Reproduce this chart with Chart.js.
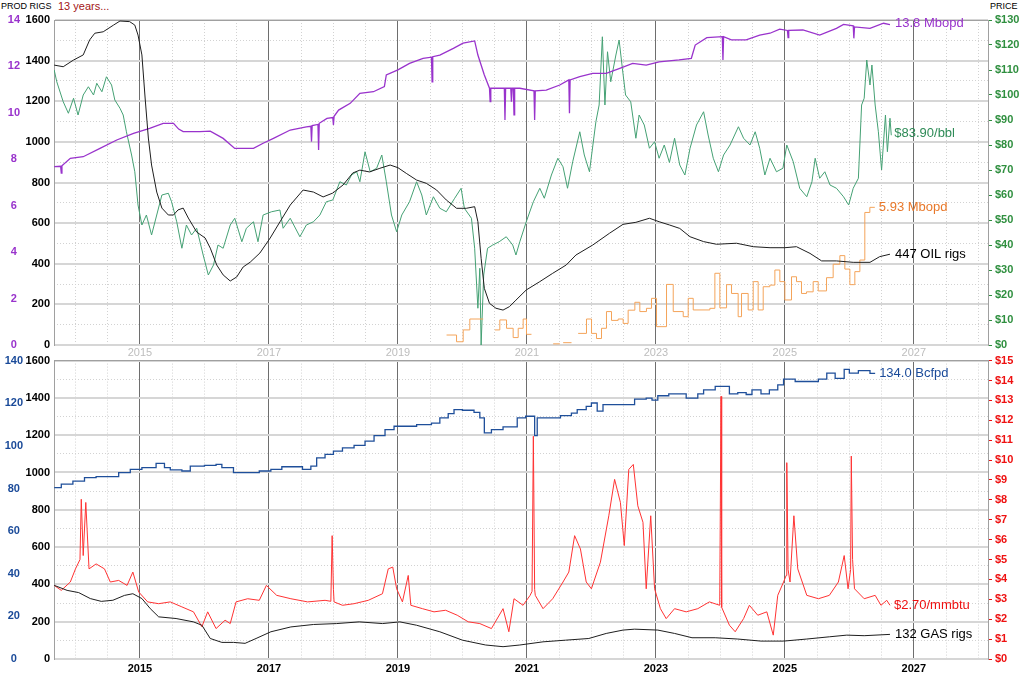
<!DOCTYPE html>
<html>
<head>
<meta charset="utf-8">
<script src="https://cdn.jsdelivr.net/npm/chart.js@4.4.1/dist/chart.umd.min.js"></script>
<style>
  body { margin: 0; background: #fff; width: 1020px; height: 676px; overflow: hidden; position: relative;
         font-family: "Liberation Sans", Arial, sans-serif; }
  canvas { position: absolute; left: 0; }
  #oil { top: 0; }
  #gas { top: 350px; }
  .hdr { position: absolute; top: 0; font-size: 9px; line-height: 12px; color: #000; }
</style>
</head>
<body>
<div class="hdr" style="left:1px">PROD RIGS</div>
<div class="hdr" style="left:58px;color:#a31515;font-size:11px">13 years...</div>
<div class="hdr" style="left:990px">PRICE</div>
<canvas id="oil" width="1020" height="362"></canvas>
<canvas id="gas" width="1020" height="326"></canvas>
<script>
// x range in decimal years
const xMin = 2013.667, xMax = 2028.15;
const yearLabels = [2015, 2017, 2019, 2021, 2023, 2025, 2027];

// ---- oil panel ----
const oilRigs = [[2013.67,1378],[2013.81,1370],[2013.97,1403],[2014.12,1428],[2014.22,1502],[2014.30,1535],[2014.43,1542],
  [2014.59,1575],[2014.69,1595],[2014.84,1592],[2014.92,1575],[2014.97,1526],[2015.03,1428],[2015.08,1216],[2015.13,1019],
  [2015.18,886],[2015.26,753],[2015.34,674],[2015.44,640],[2015.52,640],[2015.59,665],[2015.67,674],[2015.75,625],[2015.88,556],
  [2016.01,527],[2016.09,477],[2016.19,394],[2016.29,345],[2016.40,315],[2016.50,335],[2016.60,384],[2016.71,408],[2016.86,453],
  [2017.02,527],[2017.17,606],[2017.33,689],[2017.53,763],[2017.69,753],[2017.84,729],[2017.99,748],[2018.15,788],[2018.30,847],
  [2018.41,861],[2018.56,852],[2018.72,870],[2018.88,886],[2019.00,873],[2019.13,845],[2019.29,812],[2019.44,796],[2019.60,763],
  [2019.75,714],[2019.91,673],[2020.06,673],[2020.19,681],[2020.24,607],[2020.29,427],[2020.34,279],[2020.42,205],[2020.52,181],
  [2020.63,172],[2020.73,189],[2020.83,221],[2020.99,271],[2021.20,312],[2021.40,353],[2021.61,394],[2021.76,443],[2022.02,492],
  [2022.28,550],[2022.49,594],[2022.69,604],[2022.90,624],[2023.05,607],[2023.21,591],[2023.37,574],[2023.53,533],[2023.74,509],
  [2023.94,496],[2024.25,501],[2024.51,484],[2024.77,479],[2025.00,479],[2025.18,484],[2025.39,451],[2025.57,414],[2025.80,414],
  [2026.06,407],[2026.32,407],[2026.47,435],[2026.63,447]];

const oilPrice = [[2013.67,110],[2013.71,105.3],[2013.81,97.3],[2013.89,92.7],[2013.97,98.7],[2014.04,92],[2014.12,100],
  [2014.20,103.3],[2014.28,100],[2014.33,104.7],[2014.41,101.3],[2014.48,107.3],[2014.56,104],[2014.61,98],[2014.69,94.7],
  [2014.74,92],[2014.79,85.3],[2014.87,76],[2014.92,69.3],[2014.97,56],[2015.03,48],[2015.10,52],[2015.18,44],[2015.26,52],
  [2015.34,60],[2015.44,60.7],[2015.49,57.3],[2015.57,49.3],[2015.65,38.7],[2015.72,48],[2015.80,44],[2015.88,46.7],[2015.98,36],
  [2016.06,28],[2016.14,32],[2016.21,40],[2016.29,38.7],[2016.40,48],[2016.47,50.7],[2016.58,41.3],[2016.65,46.7],[2016.76,49.3],
  [2016.83,41.3],[2016.91,52],[2017.04,53.3],[2017.17,54],[2017.22,46.7],[2017.33,50.7],[2017.48,43.3],[2017.58,48],[2017.69,49.3],
  [2017.79,52],[2017.89,57.3],[2017.99,58],[2018.10,65.3],[2018.20,64],[2018.28,68],[2018.36,69.3],[2018.41,65.3],[2018.49,77.3],
  [2018.57,69.3],[2018.67,70.7],[2018.75,76],[2018.82,65.3],[2018.90,52],[2018.98,45.3],[2019.06,52],[2019.18,57.3],[2019.29,65.3],
  [2019.37,60],[2019.44,52],[2019.55,59.3],[2019.65,54.7],[2019.75,53.3],[2019.88,58.7],[2019.98,62.7],[2020.03,54.7],[2020.14,50.7],
  [2020.19,38.7],[2020.24,14.7],[2020.27,30.7],[2020.29,0],[2020.33,28],[2020.39,38.7],[2020.47,40],[2020.57,41.3],[2020.68,43.3],
  [2020.78,40],[2020.83,36],[2020.89,41.3],[2020.99,49.3],[2021.10,57.3],[2021.20,62.7],[2021.27,58.7],[2021.38,68],[2021.48,74.7],
  [2021.56,71.3],[2021.63,62.7],[2021.71,73.3],[2021.82,85.3],[2021.89,76],[2021.97,69.3],[2022.07,89.3],[2022.12,96],[2022.17,123.3],
  [2022.21,96],[2022.25,117.3],[2022.30,105.3],[2022.38,116],[2022.43,122],[2022.48,110.7],[2022.53,100],[2022.61,97.3],[2022.69,82.7],
  [2022.74,92],[2022.82,88],[2022.90,78.7],[2022.98,81.3],[2023.05,74.7],[2023.13,80],[2023.21,73],[2023.29,82.7],[2023.37,72],
  [2023.45,68],[2023.53,78.7],[2023.63,88],[2023.74,93.3],[2023.81,84],[2023.89,74.7],[2023.97,69.3],[2024.05,76],[2024.15,80],
  [2024.28,87.3],[2024.36,82.7],[2024.46,80],[2024.54,85.3],[2024.61,78.7],[2024.69,68],[2024.77,74.7],[2024.87,69.3],[2024.97,70.7],
  [2025.03,80],[2025.13,73.3],[2025.23,62.7],[2025.34,59.3],[2025.42,65.3],[2025.47,74.7],[2025.54,66.7],[2025.62,69.3],[2025.70,64],
  [2025.80,62.7],[2025.91,59.3],[2025.99,56],[2026.06,62.7],[2026.14,66.7],[2026.19,96],[2026.23,98.7],[2026.27,114],[2026.32,104],
  [2026.35,112],[2026.40,96],[2026.45,85.3],[2026.50,70],[2026.56,92],[2026.59,77.3],[2026.63,90.7],[2026.65,83.9]];

const oilProd = [[2013.67,7.68],[2013.77,7.70],[2013.78,7.40],[2013.79,7.72],[2013.92,8.04],[2014.12,8.11],[2014.38,8.47],
  [2014.64,8.83],[2014.90,9.12],[2015.15,9.33],[2015.36,9.55],[2015.52,9.55],[2015.60,9.30],[2015.67,9.19],[2015.93,9.19],
  [2016.09,9.21],[2016.29,8.90],[2016.47,8.47],[2016.76,8.47],[2016.91,8.69],[2017.07,8.90],[2017.33,9.26],[2017.58,9.40],
  [2017.65,9.42],[2017.66,8.76],[2017.67,9.45],[2017.76,9.50],[2017.77,8.40],[2017.78,9.55],[2017.90,9.76],[2017.99,9.80],
  [2018.00,9.48],[2018.01,9.85],[2018.08,10.12],[2018.26,10.41],[2018.41,10.84],[2018.62,10.91],[2018.79,11.13],[2018.82,11.63],
  [2019.00,11.85],[2019.18,12.13],[2019.39,12.35],[2019.52,12.40],[2019.53,11.34],[2019.54,12.42],[2019.65,12.49],[2019.86,12.78],
  [2020.01,13.00],[2020.19,13.10],[2020.24,12.49],[2020.34,11.63],[2020.42,11.06],[2020.43,10.48],[2020.44,11.06],[2020.65,11.06],
  [2020.66,9.69],[2020.67,11.06],[2020.75,11.06],[2020.76,10.48],[2020.77,11.06],[2020.79,11.06],[2020.80,9.91],[2020.81,11.06],
  [2020.89,11.06],[2021.11,10.95],[2021.12,9.69],[2021.13,10.95],[2021.30,10.98],[2021.51,11.20],[2021.65,11.42],[2021.66,9.98],
  [2021.67,11.42],[2021.82,11.56],[2022.02,11.70],[2022.23,11.70],[2022.44,11.92],[2022.64,12.13],[2022.85,12.06],[2023.05,12.20],
  [2023.36,12.28],[2023.55,12.35],[2023.61,12.92],[2023.79,13.24],[2024.03,13.28],[2024.04,12.28],[2024.05,13.28],[2024.17,13.14],
  [2024.40,13.14],[2024.61,13.35],[2024.77,13.43],[2024.92,13.61],[2025.04,13.55],[2025.05,13.24],[2025.06,13.55],[2025.28,13.57],
  [2025.54,13.35],[2025.80,13.64],[2025.91,13.81],[2026.06,13.75],[2026.07,13.21],[2026.08,13.70],[2026.32,13.64],[2026.53,13.86],
  [2026.63,13.80]];

// stepped series, null = gap
const oilExports = [[2019.754,0.43],[2019.909,0.14],[2020.012,0.65],[2020.115,1.12],[2020.322,1.12],[2020.40,null],
  [2020.503,0.65],[2020.580,1.08],[2020.684,0.72],[2020.787,0.32],[2020.865,0.72],[2020.942,1.12],[2020.994,0.46],[2021.071,0.46],
  [2021.20,null],[2021.407,0.05],[2021.511,0.05],[2021.53,null],[2021.562,0.10],[2021.692,0.10],[2021.74,null],
  [2021.795,0.50],[2021.924,1.12],[2022.002,0.50],[2022.079,0.28],[2022.157,0.72],[2022.234,1.44],[2022.312,1.06],[2022.415,1.12],
  [2022.493,0.93],[2022.570,1.50],[2022.674,1.84],[2022.751,1.44],[2022.854,1.58],[2022.932,2.01],[2023.010,0.79],[2023.165,2.61],
  [2023.269,1.44],[2023.424,1.22],[2023.501,2.01],[2023.579,1.51],[2023.837,1.58],[2023.915,3.09],[2023.992,1.60],[2024.096,2.60],
  [2024.173,2.22],[2024.276,1.22],[2024.328,2.22],[2024.431,1.51],[2024.509,2.73],[2024.586,1.51],[2024.664,2.51],[2024.767,2.58],
  [2024.845,3.23],[2024.922,2.73],[2025.000,1.94],[2025.103,2.94],[2025.181,2.73],[2025.258,2.22],[2025.336,2.29],[2025.439,2.73],
  [2025.517,2.33],[2025.646,2.90],[2025.749,3.48],[2025.853,3.85],[2025.930,3.27],[2026.008,2.60],[2026.085,3.16],[2026.163,3.66],
  [2026.240,5.71],[2026.318,5.93],[2026.395,5.93]];

// ---- gas panel ----
const gasRigs = [[2013.67,395],[2013.87,368],[2014.05,356],[2014.23,324],[2014.40,309],[2014.58,315],[2014.76,341],[2014.89,350],
  [2015.03,324],[2015.16,270],[2015.29,226],[2015.56,217],[2015.83,199],[2015.96,181],[2016.09,110],[2016.27,89],[2016.45,89],
  [2016.63,84],[2016.80,110],[2017.03,146],[2017.34,172],[2017.69,185],[2018.05,190],[2018.40,199],[2018.76,190],[2019.03,199],
  [2019.29,181],[2019.65,146],[2020.00,101],[2020.36,75],[2020.63,66],[2020.89,75],[2021.25,92],[2021.60,101],[2021.96,110],
  [2022.23,137],[2022.49,155],[2022.67,160],[2023.03,155],[2023.29,137],[2023.56,114],[2023.92,114],[2024.27,107],[2024.63,96],
  [2024.98,96],[2025.34,107],[2025.69,119],[2025.96,128],[2026.23,125],[2026.63,132]];

const gasPrice = [[2013.67,3.7],[2013.78,3.45],[2013.92,3.87],[2014.00,4.53],[2014.07,5.0],[2014.09,8.03],[2014.12,5.2],[2014.16,7.87],
  [2014.21,4.53],[2014.32,4.78],[2014.45,4.53],[2014.54,3.87],[2014.67,3.95],[2014.80,3.7],[2014.89,4.37],[2014.98,3.37],[2015.12,2.87],
  [2015.29,2.78],[2015.47,2.87],[2015.65,2.62],[2015.83,2.37],[2015.96,1.62],[2016.05,2.37],[2016.18,1.53],[2016.32,1.95],[2016.40,1.78],
  [2016.49,2.87],[2016.67,3.03],[2016.85,2.95],[2016.96,3.7],[2017.12,3.2],[2017.34,3.03],[2017.60,2.87],[2017.87,2.95],[2017.96,2.9],
  [2017.98,6.2],[2018.00,3.5],[2018.01,2.87],[2018.14,2.7],[2018.32,2.78],[2018.54,2.95],[2018.76,3.28],[2018.85,4.53],[2018.92,4.62],
  [2018.98,3.53],[2019.07,2.87],[2019.16,4.2],[2019.20,2.7],[2019.38,2.53],[2019.56,2.37],[2019.74,2.45],[2019.92,2.2],[2020.09,1.87],
  [2020.27,1.78],[2020.45,1.53],[2020.63,2.53],[2020.72,1.37],[2020.80,3.03],[2020.94,2.7],[2021.05,3.2],[2021.08,3.4],[2021.10,11.2],
  [2021.12,3.5],[2021.13,3.2],[2021.25,2.53],[2021.40,3.03],[2021.56,3.87],[2021.65,4.37],[2021.74,6.2],[2021.83,5.53],[2021.92,3.87],
  [2022.00,3.53],[2022.14,4.87],[2022.27,7.2],[2022.36,9.03],[2022.45,7.87],[2022.51,5.7],[2022.58,9.53],[2022.65,9.78],[2022.72,7.7],
  [2022.80,6.87],[2022.85,3.53],[2022.92,7.2],[2022.98,3.53],[2023.07,2.53],[2023.16,2.03],[2023.29,2.53],[2023.47,2.37],[2023.65,2.53],
  [2023.83,2.87],[2023.99,2.7],[2024.01,13.2],[2024.02,2.6],[2024.14,1.7],[2024.23,1.37],[2024.36,2.03],[2024.45,2.7],[2024.58,2.2],
  [2024.72,2.37],[2024.82,1.2],[2024.89,3.2],[2024.98,3.87],[2025.02,4.2],[2025.03,9.87],[2025.05,4.5],[2025.08,3.87],[2025.14,7.2],
  [2025.20,4.53],[2025.34,3.2],[2025.52,3.03],[2025.69,3.2],[2025.83,3.87],[2025.92,5.2],[2025.98,3.53],[2026.02,4.5],[2026.03,10.2],
  [2026.05,5.0],[2026.08,3.53],[2026.23,3.03],[2026.40,3.2],[2026.49,2.7],[2026.58,2.95],[2026.63,2.7]];

const gasProd = [[2013.67,80.4],[2013.78,82],[2013.96,83.5],[2014.14,85.1],[2014.32,85.6],[2014.67,87.4],[2014.85,89],[2015.03,89.8],
  [2015.25,91.8],[2015.38,89.8],[2015.47,88.7],[2015.65,88.2],[2015.78,90.5],[2016.00,90.8],[2016.18,91.3],[2016.27,89.8],[2016.45,87.4],
  [2016.85,88.2],[2017.03,89],[2017.20,90.2],[2017.52,89],[2017.65,90.5],[2017.74,94.4],[2017.87,96],[2018.00,97.5],[2018.14,99.1],
  [2018.32,100.2],[2018.49,102.2],[2018.63,104.8],[2018.80,107.6],[2018.94,109.2],[2019.29,110],[2019.52,110.7],[2019.65,113.1],
  [2019.78,115.1],[2019.87,117],[2020.00,116.7],[2020.18,115.7],[2020.27,113.1],[2020.34,106.1],[2020.45,107.6],[2020.63,108.9],
  [2020.85,113.1],[2020.98,113.9],[2021.12,104.8],[2021.16,113.1],[2021.52,114.2],[2021.69,115.4],[2021.78,117],[2021.92,118.5],
  [2022.00,120.1],[2022.09,116.3],[2022.18,119.3],[2022.67,121.9],[2022.85,122.4],[2022.94,121.5],[2023.03,123.5],[2023.20,124.4],
  [2023.47,122.4],[2023.65,124.4],[2023.74,126.3],[2023.92,127.9],[2024.14,124.4],[2024.27,125],[2024.40,124.1],[2024.49,126.3],
  [2024.63,124.4],[2024.76,126.3],[2024.89,128.6],[2024.98,131.3],[2025.16,130.2],[2025.52,131.3],[2025.65,134.1],[2025.78,131.7],
  [2025.92,135.9],[2026.00,134.1],[2026.14,135.3],[2026.32,134.0],[2026.40,134.0]];

const FONT = '"Liberation Sans", Arial, sans-serif';
const pts = arr => arr.map(p => ({ x: p[0], y: p[1] }));
const steps = (a, b, s) => { const t = []; for (let v = a; v <= b + 1e-9; v += s) t.push({ value: +v.toFixed(3) }); return t; };

// text after the last point of a series
const endLabels = {
  id: 'endLabels',
  afterDatasetsDraw(chart) {
    const ctx = chart.ctx;
    chart.data.datasets.forEach((ds, i) => {
      if (!ds.endLabel) return;
      const els = chart.getDatasetMeta(i).data;
      const p = els[els.length - 1];
      ctx.save();
      ctx.font = '13px ' + FONT;
      ctx.fillStyle = ds.endColor;
      ctx.textBaseline = 'middle';
      ctx.fillText(ds.endLabel, p.x + (ds.endDx || 4), p.y + (ds.endDy || 0));
      ctx.restore();
    });
  }
};

function panel(id, o) {
  return new Chart(document.getElementById(id), {
    type: 'line',
    data: { datasets: o.datasets },
    options: {
      responsive: false, animation: false, devicePixelRatio: 1,
      layout: { padding: { top: o.padTop, left: 0, right: 0, bottom: 0 } },
      plugins: { legend: { display: false }, tooltip: { enabled: false } },
      elements: { point: { radius: 0 }, line: { borderWidth: 1, tension: 0 } },
      scales: {
        x: {
          type: 'linear', min: xMin, max: xMax,
          afterBuildTicks: s => { s.ticks = steps(2014, 2028, 0.5); },
          ticks: { autoSkip: false, maxRotation: 0, padding: o.xPad, color: o.xColor,
                   font: { family: FONT, size: 11, weight: o.xWeight },
                   callback: v => yearLabels.includes(v) ? String(v) : '' },
          grid: { color: '#d2d2d2', drawTicks: false },
          border: { display: false, dash: [1, 2] },
          afterFit: s => { s.height = 17; }
        },
        xo: {
          type: 'linear', position: 'bottom', min: xMin, max: xMax,
          afterBuildTicks: s => { s.ticks = yearLabels.map(v => ({ value: v })); },
          ticks: { display: false },
          grid: { color: '#6e6e6e', drawTicks: false },
          border: { display: true, color: '#a0a0a0' },
          afterFit: s => { s.height = 0; }
        },
        xt: {
          type: 'linear', position: 'top', min: xMin, max: xMax,
          ticks: { display: false }, grid: { display: false, drawTicks: false },
          border: { display: true, color: '#a0a0a0' },
          afterFit: s => { s.height = 0; }
        },
        prod: {
          position: 'left', weight: 2, min: 0, max: o.prodMax,
          afterBuildTicks: s => { s.ticks = steps(0, o.prodMax, o.prodMax / 7); },
          ticks: { color: o.prodColor, crossAlign: 'center', padding: o.prodPad,
                   font: { family: FONT, size: 11, weight: 'bold' } },
          grid: { display: false, drawTicks: false }, border: { display: false },
          afterFit: s => { s.width = 26; }
        },
        rigs: {
          position: 'left', weight: 1, min: 0, max: 1600,
          afterBuildTicks: s => { s.ticks = steps(0, 1600, 50); },
          ticks: { color: '#000', padding: 4, font: { family: FONT, size: 11, weight: 'bold' },
                   callback: v => v % 200 === 0 ? String(v) : '' },
          grid: { color: '#d2d2d2', drawTicks: false },
          border: { display: false, dash: [1, 2] },
          afterFit: s => { s.width = 28; }
        },
        rmaj: {
          position: 'left', weight: 0, min: 0, max: 1600,
          afterBuildTicks: s => { s.ticks = steps(0, 1600, 200); },
          ticks: { display: false },
          grid: { color: '#d6d6d6', lineWidth: 2, drawTicks: false },
          border: { display: true, color: '#a0a0a0' },
          afterFit: s => { s.width = 0; }
        },
        price: {
          position: 'right', min: 0, max: o.priceMax,
          afterBuildTicks: s => { s.ticks = steps(0, o.priceMax, o.priceStep / 2); },
          ticks: { color: o.priceColor, padding: 3, font: { family: FONT, size: 11, weight: 'bold' },
                   callback: v => Math.abs(v / o.priceStep - Math.round(v / o.priceStep)) < 1e-6 ? '$' + v : '' },
          grid: { drawOnChartArea: false, tickLength: 4, tickColor: o.priceColor },
          border: { display: true, color: '#a0a0a0' },
          afterFit: s => { s.width = 32; }
        }
      }
    },
    plugins: [endLabels]
  });
}

panel('oil', {
  padTop: 20, xPad: 1, xColor: '#bdbdbd', xWeight: 'normal',
  prodMax: 14, prodColor: '#9933cc', prodPad: 6,
  priceMax: 130, priceStep: 10, priceColor: '#2f8f3f',
  datasets: [
    { data: pts(oilRigs), yAxisID: 'rigs', borderColor: '#1e1e1e',
      endLabel: '447 OIL rigs', endColor: '#000', endDx: 5 },
    { data: pts(oilExports), yAxisID: 'prod', borderColor: '#f4a45a', stepped: true, spanGaps: false,
      endLabel: '5.93 Mbopd', endColor: '#e8782a', endDx: 4 },
    { data: pts(oilProd), yAxisID: 'prod', borderColor: '#9933cc', borderWidth: 1.3,
      endLabel: '13.8 Mbopd', endColor: '#9933cc', endDx: 5, endDy: -1 },
    { data: pts(oilPrice), yAxisID: 'price', borderColor: '#45a174',
      endLabel: '$83.90/bbl', endColor: '#2e8b57', endDx: 3, endDy: -2 }
  ]
});

panel('gas', {
  padTop: 9, xPad: 3, xColor: '#000', xWeight: 'bold',
  prodMax: 140, prodColor: '#1a4a99', prodPad: 3,
  priceMax: 15, priceStep: 1, priceColor: '#ee1111',
  datasets: [
    { data: pts(gasRigs), yAxisID: 'rigs', borderColor: '#1e1e1e',
      endLabel: '132 GAS rigs', endColor: '#000', endDx: 5 },
    { data: pts(gasPrice), yAxisID: 'price', borderColor: '#ff3333',
      endLabel: '$2.70/mmbtu', endColor: '#ee1111', endDx: 4 },
    { data: pts(gasProd), yAxisID: 'prod', borderColor: '#1f4f9a', borderWidth: 1.3, stepped: true,
      endLabel: '134.0 Bcfpd', endColor: '#1a4a99', endDx: 4 }
  ]
});
</script>
</body>
</html>
